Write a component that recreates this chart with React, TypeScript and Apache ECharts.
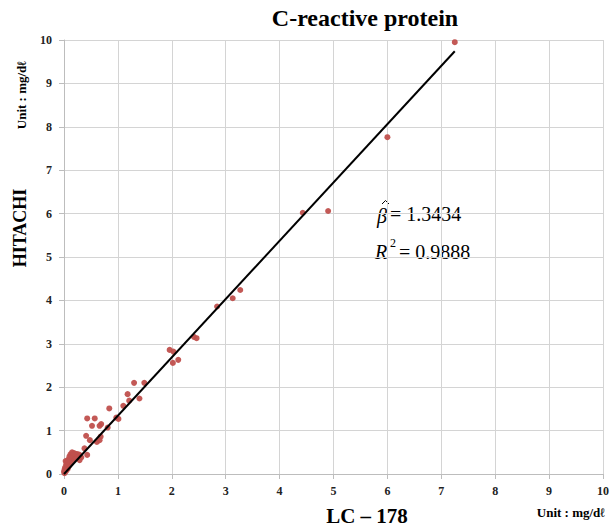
import React, { useEffect, useRef } from "react";
import * as echarts from "echarts";

const xTicks = [0, 1, 2, 3, 4, 5, 6, 7, 8, 9, 10];
const yTicks = [0, 1, 2, 3, 4, 5, 6, 7, 8, 9, 10];

const pointsLC178 = [
  0.01, 0.02, 0.03, 0.04, 0.05, 0.06, 0.07, 0.08, 0.09, 0.1, 0.11, 0.12, 0.13, 0.14, 0.15, 0.16, 0.17, 0.18, 0.19, 0.2,
  0.21, 0.22, 0.23, 0.24, 0.25, 0.27, 0.28, 0.3, 0.32, 0.02, 0.04, 0.03, 0.01, 0.0, 0.05, 0.08, 0.1, 0.12, 0.15, 0.18,
  0.29, 0.43, 0.38, 0.41, 0.48, 0.61, 0.66, 0.68, 0.43, 0.57, 0.52, 0.69, 0.66, 0.81, 0.97, 1.01, 0.84, 1.1, 1.18, 1.21,
  1.4, 1.3, 1.49, 1.96, 2.03, 2.02, 2.12, 2.41, 2.46, 2.84, 3.13, 3.27, 4.43, 4.9, 6.0, 7.25,
];
const pointsHitachi = [
  0.02, 0.05, 0.1, 0.07, 0.15, 0.2, 0.12, 0.25, 0.18, 0.3, 0.22, 0.35, 0.28, 0.4, 0.32, 0.45, 0.38, 0.42, 0.35, 0.47,
  0.4, 0.44, 0.38, 0.46, 0.42, 0.45, 0.4, 0.43, 0.38, 0.15, 0.22, 0.3, 0.1, 0.05, 0.28, 0.33, 0.4, 0.45, 0.5, 0.48,
  0.32, 0.44, 0.59, 0.88, 0.78, 0.74, 0.78, 0.86, 1.28, 1.28, 1.11, 1.15, 1.11, 1.07, 1.3, 1.27, 1.51, 1.57, 1.84, 1.69,
  1.74, 2.1, 2.1, 2.86, 2.82, 2.56, 2.63, 3.16, 3.13, 3.86, 4.05, 4.24, 6.02, 6.06, 7.76, 9.95,
];

const fitLineX = [0, 7.25];
const fitLineY = [0, 9.74];

export default function App() {
  const ref = useRef<HTMLDivElement>(null);
  useEffect(() => {
    if (!ref.current) return;
    document.body.style.margin = "0";
    const chart = echarts.init(ref.current, null, { renderer: "svg" });
    const serif = "'Liberation Serif', 'Times New Roman', serif";
    const scatterData = pointsLC178.map((x, i) => [x, pointsHitachi[i]]);
    const lineData = fitLineX.map((x, i) => [x, fitLineY[i]]);
    const txt = (x: number, y: number, text: string, font: string, extra: any = {}) => ({
      type: "text",
      x,
      y,
      ...extra,
      style: { text, font, fill: "#000", align: "center", verticalAlign: "middle", ...(extra.style || {}) },
    });
    chart.setOption({
      animation: false,
      backgroundColor: "#ffffff",
      grid: { left: 64, right: 2, top: 40, bottom: 53, containLabel: false },
      xAxis: {
        type: "value",
        min: xTicks[0],
        max: xTicks[xTicks.length - 1],
        interval: 1,
        axisLine: { show: true, lineStyle: { color: "#bdbdbd", width: 1 } },
        axisTick: { show: true, length: 5, lineStyle: { color: "#bdbdbd" } },
        splitLine: { show: true, lineStyle: { color: "#d4d4d4", width: 1 } },
        axisLabel: { color: "#222", fontFamily: serif, fontWeight: "bold", fontSize: 12, margin: 11 },
      },
      yAxis: {
        type: "value",
        min: yTicks[0],
        max: yTicks[yTicks.length - 1],
        interval: 1,
        axisLine: { show: true, lineStyle: { color: "#bdbdbd", width: 1 } },
        axisTick: { show: true, length: 5, lineStyle: { color: "#bdbdbd" } },
        splitLine: { show: true, lineStyle: { color: "#d4d4d4", width: 1 } },
        axisLabel: { color: "#222", fontFamily: serif, fontWeight: "bold", fontSize: 12, margin: 12 },
      },
      series: [
        {
          type: "scatter",
          data: scatterData,
          symbol: "circle",
          symbolSize: 6,
          itemStyle: { color: "#c0504d", opacity: 0.95 },
          z: 2,
        },
        {
          type: "line",
          data: lineData,
          showSymbol: false,
          lineStyle: { color: "#000000", width: 2 },
          z: 3,
        },
      ],
      graphic: [
        txt(365, 18, "C-reactive protein", `bold 24px ${serif}`),
        txt(20, 228, "HITACHI", `bold 18px ${serif}`, { rotation: Math.PI / 2 }),
        txt(21, 95, "Unit : mg/dℓ", `bold 13px ${serif}`, { rotation: Math.PI / 2 }),
        txt(367, 516, "LC – 178", `bold 21px ${serif}`),
        txt(571, 512, "Unit : mg/dℓ", `bold 13px ${serif}`),
        txt(377, 216, "β", `italic 20px ${serif}`, { style: { align: "left" } }),
        {
          type: "polyline",
          shape: { points: [[382, 204], [385.5, 200.5], [389, 204]] },
          style: { stroke: "#000", lineWidth: 1, fill: null },
        },
        txt(390, 214, "= 1.3434", `20px ${serif}`, { style: { align: "left" } }),
        txt(375, 252, "R", `italic 20px ${serif}`, { style: { align: "left" } }),
        txt(390, 243, "2", `12px ${serif}`, { style: { align: "left" } }),
        txt(399, 252, "= 0.9888", `20px ${serif}`, { style: { align: "left" } }),
      ],
    });
    return () => chart.dispose();
  }, []);
  return <div ref={ref} style={{ width: 612, height: 527 }} />;
}
